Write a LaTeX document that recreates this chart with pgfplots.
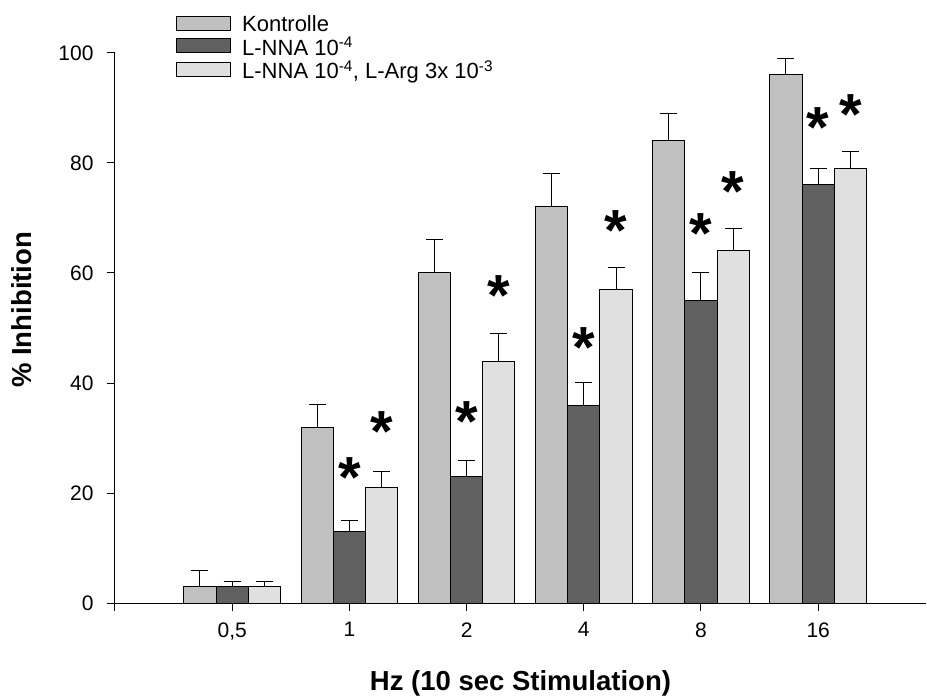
\documentclass[border=0pt]{standalone}
\usepackage{fontspec}
\setmainfont{Liberation Sans}
\usepackage{pgfplots}
\pgfplotsset{compat=1.18}
\definecolor{cK}{HTML}{C0C0C0}
\definecolor{cN}{HTML}{606060}
\definecolor{cA}{HTML}{E0E0E0}
\pgfplotsset{
  mybar/.style={bar shift=#1, draw=black, line width=1bp,
    error bars/.cd, y dir=plus, y explicit,
    error bar style={line width=1bp, black},
    error mark options={line width=1bp, black, mark size=8.5bp, rotate=90},
    /pgfplots/.cd,
    legend image code/.code={\draw[##1] (0bp,-6bp) rectangle (54bp,8bp);}},
}
\begin{document}
\begin{tikzpicture}
\begin{axis}[
  scale only axis, width=811bp, height=550bp,
  ybar, bar width=0.275,
  xmin=0, xmax=6.92, ymin=0, ymax=100,
  axis x line*=bottom, axis y line*=left,
  axis line style={line width=1bp, -},
  xtick={0,...,6}, xticklabels={{},{0,5},1,2,4,8,16},
  ytick={0,20,...,100},
  tick align=outside, major tick length=8bp,
  tick style={line width=1bp, black},
  /pgf/number format/assume math mode=true,
  ticklabel style={font=\fontsize{21bp}{25bp}\selectfont},
  xticklabel style={yshift=-8bp},
  yticklabel style={xshift=-10bp},
  xlabel={Hz (10 sec Stimulation)},
  ylabel={\% Inhibition},
  label style={font=\fontsize{27.5bp}{32bp}\selectfont\bfseries},
  xlabel style={at={(axis description cs:0.5,-0.1455)}, anchor=center},
  ylabel style={at={(axis description cs:-0.115,0.533)}, anchor=center},
  clip=false,
  legend style={at={(axis description cs:0.0752,1.070)}, anchor=north west,
    draw=none, fill=none, font=\fontsize{22bp}{26bp}\selectfont,
    row sep=2bp, inner sep=0pt, column sep=10bp, nodes={inner sep=1bp}},
  legend cell align=left,
]
\coordinate (O) at (rel axis cs:0,0);
\addplot[mybar=-0.275, fill=cK, draw=black] coordinates {
 (1,3) +- (0,3) (2,32) +- (0,4) (3,60) +- (0,6) (4,72) +- (0,6) (5,84) +- (0,5) (6,96) +- (0,3)};
\addlegendentry{Kontrolle}
\addplot[mybar=0, fill=cN, draw=black] coordinates {
 (1,3) +- (0,1) (2,13) +- (0,2) (3,23) +- (0,3) (4,36) +- (0,4) (5,55) +- (0,5) (6,76) +- (0,3)};
\addlegendentry{L-NNA 10\textsuperscript{-4}}
\addplot[mybar=0.275, fill=cA, draw=black] coordinates {
 (1,3) +- (0,1) (2,21) +- (0,3) (3,44) +- (0,5) (4,57) +- (0,4) (5,64) +- (0,4) (6,79) +- (0,3)};
\addlegendentry{L-NNA 10\textsuperscript{-4}, L-Arg 3x 10\textsuperscript{-3}}
\addplot[only marks, mark=none, bar shift=0,
  nodes near coords={\fontsize{58bp}{58bp}\selectfont\bfseries *},
  nodes near coords style={anchor=base, yshift=-28bp, inner sep=0pt}] coordinates {
 (2,24.2) (3,34.5) (4,47.9) (5,68.6) (6,87.9)
 (2.275,32.7) (3.275,57.4) (4.275,69.2) (5.275,76.3) (6.275,90.3)};
\end{axis}
\path (O) ++(-115bp,-96bp) rectangle ++(927bp,699bp);
\end{tikzpicture}
\end{document}
